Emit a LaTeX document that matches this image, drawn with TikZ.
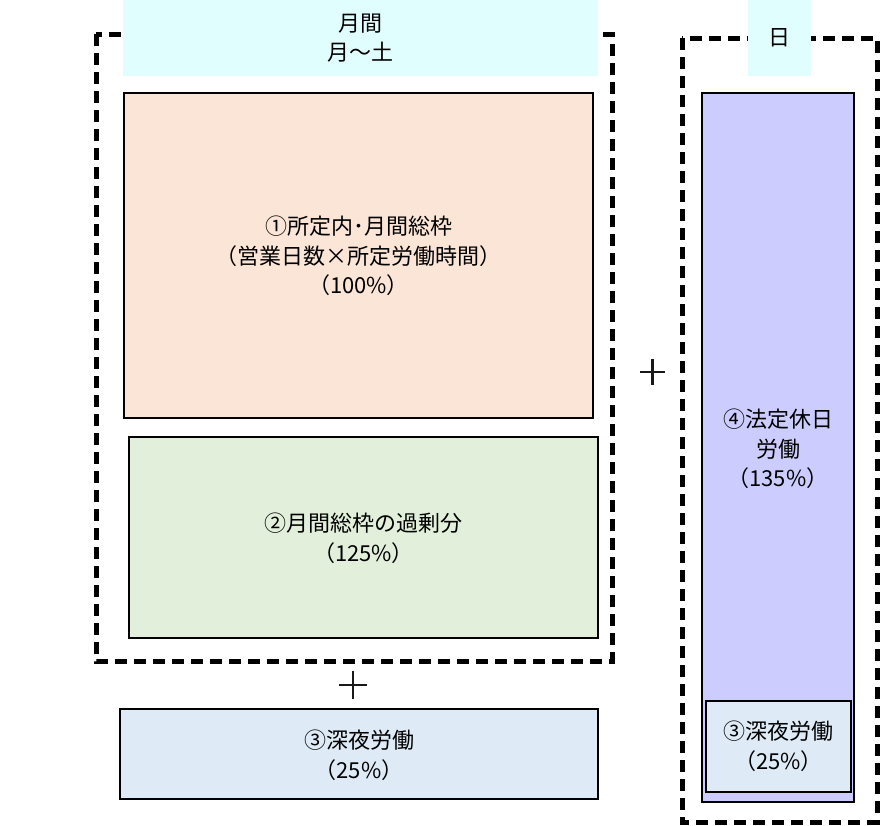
\documentclass[tikz,border=0pt]{standalone}
\usepackage{fontspec}
\setmainfont{Noto Sans CJK JP}
\definecolor{hdr}{HTML}{E1FEFE}
\definecolor{c1}{HTML}{FBE5D6}
\definecolor{c2}{HTML}{E2EFDA}
\definecolor{c3}{HTML}{DEEBF7}
\definecolor{c4}{HTML}{CCCCFF}
\begin{document}
\begin{tikzpicture}[x=1pt,y=-1pt,
  txt/.style={align=center,font=\fontsize{22}{29.5}\selectfont,text=black},
  box/.style={draw=black,line width=2.2pt,txt},
  grp/.style={draw=black,line width=5pt,dash pattern=on 12pt off 7pt},
  hdrbox/.style={fill=hdr,txt}]
\useasboundingbox (0,0) rectangle (881,825);
% dashed groups
\draw[grp] (96,34) rectangle (612,661);
\draw[grp] (682,38) rectangle (877,822);
% headers
\path[fill=hdr] (123,0) rectangle (598,76);
\node[txt] (h1) at (360.5,38) {月間\\月～土};
\path[fill=hdr] (748,0) rectangle (811,76);
\node[txt] (h2) at (779.5,38) {日};
% boxes
\path[box,fill=c1] (124,93) rectangle (593,418);
\node[txt] (b1) at (358.5,256) {①所定内･月間総枠\\（営業日数×所定労働時間）\\（100\%）};
\path[box,fill=c2] (129,437) rectangle (598,638);
\node[txt] (b2) at (363.5,538) {②月間総枠の過剰分\\（125\%）};
\path[box,fill=c3] (120,709) rectangle (598,799);
\node[txt] (b3) at (359,755) {③深夜労働\\（25\%）};
\path[box,fill=c4] (702,93) rectangle (854,802);
\node[txt] (b4) at (778,449) {④法定休日\\労働\\（135\%）};
\path[box,fill=c3] (706,701) rectangle (851,792);
\node[txt] (b5) at (778.5,746) {③深夜労働\\（25\%）};
% plus signs
\draw[line width=2.2pt,black!90] (339,685) -- (367,685) (353,671) -- (353,699);
\draw[line width=2.2pt,black!90] (640,372) -- (665,372) (652.5,359) -- (652.5,385);
\end{tikzpicture}
\end{document}
